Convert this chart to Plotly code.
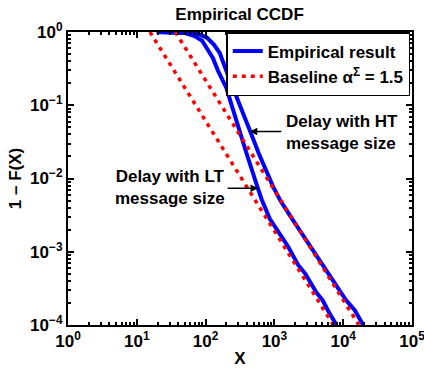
import plotly.graph_objects as go

# Empirical CCDF, "LT" message size
lt_x = [19.5, 35.5, 50.1, 69.2, 89.1, 108, 128, 150, 174, 201, 234, 265, 302, 393,
        560, 649, 857, 1200, 1585, 2213, 2818, 4100, 5012, 6310, 8020]
lt_y = [1.0, 0.991, 0.966, 0.881, 0.759, 0.568, 0.438, 0.302, 0.224, 0.171, 0.107,
        0.0724, 0.049, 0.0221, 0.00794, 0.00525, 0.00282, 0.00178, 0.00117, 0.00066,
        0.0005, 0.000275, 0.000219, 0.000145, 0.0001]

# Empirical CCDF, "HT" message size
ht_x = [19.5, 40, 60, 82, 104, 131, 160, 209, 248, 335, 446, 591, 957, 1200,
        1778, 2692, 3981, 5754, 7943, 10965, 14791, 19500]
ht_y = [1.0, 0.995, 0.975, 0.925, 0.84, 0.68, 0.52, 0.265, 0.171, 0.0863, 0.0437,
        0.0221, 0.00776, 0.00513, 0.00288, 0.00158, 0.000912, 0.000537, 0.000347,
        0.000219, 0.000158, 0.0001]

# Baseline Pareto, alpha = 1.5
base_lt_x = [15.5, 7190]
base_lt_y = [1.0, 0.0001]
base_ht_x = [36.3, 16900]
base_ht_y = [1.0, 0.0001]

x_tickvals = [1, 10, 100, 1000, 10000, 100000]
x_ticktext = ["<b>10<sup>0</sup></b>", "<b>10<sup>1</sup></b>", "<b>10<sup>2</sup></b>",
              "<b>10<sup>3</sup></b>", "<b>10<sup>4</sup></b>", "<b>10<sup>5</sup></b>"]
y_tickvals = [1e-4, 1e-3, 1e-2, 1e-1, 1]
y_ticktext = ["<b>10<sup>\u22124</sup></b>", "<b>10<sup>\u22123</sup></b>",
              "<b>10<sup>\u22122</sup></b>", "<b>10<sup>\u22121</sup></b>",
              "<b>10<sup>0</sup></b>"]

FONT = "Liberation Sans, Arial, sans-serif"
BLUE = "#0000ff"
RED = "#ff0000"

fig = go.Figure()
fig.add_trace(go.Scatter(x=lt_x, y=lt_y, mode="lines", name="<b>Empirical result</b>",
                         line=dict(color=BLUE, width=4), legendgroup="e"))
fig.add_trace(go.Scatter(x=ht_x, y=ht_y, mode="lines", name="Empirical result",
                         line=dict(color=BLUE, width=4), legendgroup="e", showlegend=False))
fig.add_trace(go.Scatter(x=base_lt_x, y=base_lt_y, mode="lines",
                         name="<b>Baseline \u03b1<sup>\u03a3</sup> = 1.5</b>",
                         line=dict(color=RED, width=3.5, dash="4px,5px"), legendgroup="b"))
fig.add_trace(go.Scatter(x=base_ht_x, y=base_ht_y, mode="lines",
                         name="Baseline", showlegend=False,
                         line=dict(color=RED, width=3.5, dash="4px,5px"), legendgroup="b"))

minor_x = [m * 10 ** k for k in range(0, 5) for m in range(2, 10)]
minor_y = [m * 10 ** k for k in range(-4, 0) for m in range(2, 10)]

axis_common = dict(type="log", showline=True, linewidth=2, linecolor="black",
                   mirror="allticks", ticks="inside", ticklen=6, tickwidth=1.5,
                   tickcolor="black", showgrid=False, zeroline=False, automargin=False,
                   ticklabeloverflow="allow",
                   tickfont=dict(family=FONT, size=17, color="black"))

fig.update_xaxes(range=[0, 5], tickvals=x_tickvals, ticktext=x_ticktext,
                 title=dict(text="<b>X</b>", font=dict(family=FONT, size=17, color="black"),
                            standoff=2),
                 minor=dict(ticks="inside", ticklen=3, tickcolor="black", tickvals=minor_x,
                            showgrid=False),
                 **axis_common)
fig.update_yaxes(range=[-4, 0], tickvals=y_tickvals, ticktext=y_ticktext,
                 title=dict(text="<b>1 \u2013 F(X)</b>", font=dict(family=FONT, size=17, color="black"),
                            standoff=4),
                 minor=dict(ticks="inside", ticklen=3, tickcolor="black", tickvals=minor_y,
                            showgrid=False),
                 **axis_common)

ann_font = dict(family=FONT, size=17, color="black")
fig.update_layout(
    width=424, height=372,
    margin=dict(l=68, r=12, t=32, b=47, autoexpand=False),
    paper_bgcolor="white", plot_bgcolor="white",
    font=dict(family=FONT, color="black"),
    title=dict(text="<b>Empirical CCDF</b>", x=0.565, xanchor="center", y=0.962, yanchor="middle",
               font=dict(family=FONT, size=17, color="black")),
    legend=dict(x=0.995, xanchor="right", y=1.0, yanchor="top", bgcolor="white",
                bordercolor="black", borderwidth=1.5, itemwidth=30,
                font=dict(family=FONT, size=17, color="black"),
                tracegroupgap=0),
    showlegend=True,
    annotations=[
        dict(x=2.642, y=-1.36, xref="x", yref="y", text="", showarrow=True,
             ax=33, ay=0, arrowhead=2, arrowsize=1, arrowwidth=1.5, arrowcolor="black"),
        dict(x=2.763, y=-2.132, xref="x", yref="y", text="", showarrow=True,
             ax=-32, ay=0, arrowhead=2, arrowsize=1, arrowwidth=1.5, arrowcolor="black"),
        dict(x=0.628, y=0.658, xref="paper", yref="paper", xanchor="left", yanchor="middle",
             text="<b>Delay with HT<br>message size</b>", showarrow=False, align="left",
             font=ann_font),
        dict(x=0.2955, y=0.4676, xref="paper", yref="paper", xanchor="center", yanchor="middle",
             text="<b>Delay with LT<br>message size</b>", showarrow=False, align="center",
             font=ann_font),
    ],
)

fig.write_html("out.html")
